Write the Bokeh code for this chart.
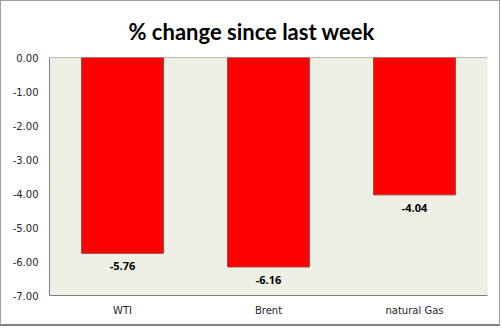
from bokeh.plotting import figure
from bokeh.models import ColumnDataSource, LabelSet, Span, NumeralTickFormatter, FixedTicker, Range1d
from bokeh.core.properties import value
from bokeh.embed import file_html
from bokeh.resources import INLINE

categories = ["WTI", "Brent", "natural Gas"]
values = [-5.76, -6.16, -4.04]
labels = ["%.2f" % v for v in values]
y_ticks = [0, -1, -2, -3, -4, -5, -6, -7]

src = ColumnDataSource(dict(cat=categories, val=values, lab=labels))

p = figure(x_range=categories, y_range=Range1d(-7, 0), width=500, height=326,
           output_backend="svg", toolbar_location=None,
           min_border_left=48, min_border_right=14, min_border_top=56, min_border_bottom=32)
p.title.text = "% change since last week"
p.title.align = "left"
p.title.text_font = "Lato"
p.title.text_font_size = "22px"
p.title.text_font_style = "bold"
p.title.text_color = "#000000"
p.title.offset = 79
p.title.standoff = 26

p.background_fill_color = "#EEF0E6"
p.border_fill_color = "white"
p.outline_line_color = None
p.xgrid.grid_line_color = None
p.ygrid.grid_line_color = None

p.vbar(x="cat", top=0, bottom="val", width=0.56, source=src,
       fill_color="#FF0000", line_color="#A33B30", line_width=1)

p.add_layout(Span(location=0, dimension="width", line_color="#808080", line_width=1))

p.add_layout(LabelSet(x="cat", y="val", text="lab", source=src, y_offset=-9,
                      text_align="center", text_baseline="top",
                      text_font=value("Open Sans"), text_font_style="bold",
                      text_font_size="11px", text_color="#000000"))

p.yaxis.ticker = FixedTicker(ticks=y_ticks)
p.yaxis.formatter = NumeralTickFormatter(format="0.00")
p.yaxis.major_tick_line_color = None
p.yaxis.major_tick_out = 0
p.yaxis.major_tick_in = 0
p.yaxis.minor_tick_line_color = None
p.yaxis.axis_line_color = "#808080"
p.yaxis.major_label_text_font = "DejaVu Sans"
p.yaxis.major_label_text_font_size = "10px"
p.yaxis.major_label_text_color = "#262626"
p.yaxis.major_label_standoff = 11

p.xaxis.major_tick_line_color = None
p.xaxis.major_tick_out = 0
p.xaxis.major_tick_in = 0
p.xaxis.axis_line_color = "#808080"
p.xaxis.major_label_text_font = "DejaVu Sans"
p.xaxis.major_label_text_font_size = "10px"
p.xaxis.major_label_text_color = "#262626"
p.xaxis.major_label_standoff = 9

p.styles = {"border-left": "1px solid #A0A0A0", "border-top": "1px solid #A0A0A0",
            "border-right": "1px solid #A0A0A0",
            "border-bottom": "2px solid #7F7F7F"}

open("out.html", "w").write(file_html(p, INLINE))
